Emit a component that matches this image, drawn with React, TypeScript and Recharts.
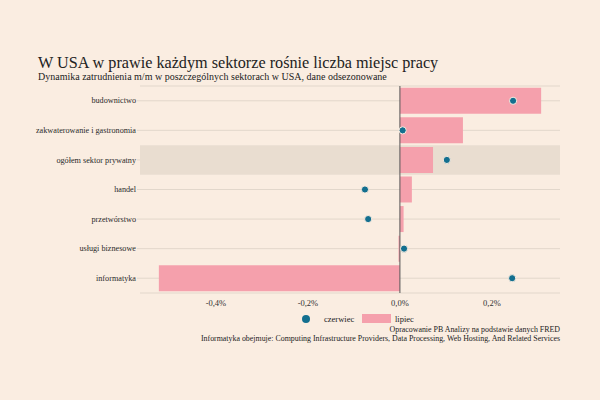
import React from "react";
import {
  ComposedChart,
  Bar,
  Line,
  XAxis,
  YAxis,
  CartesianGrid,
  ReferenceArea,
  ReferenceLine,
} from "recharts";

const categories = [
  "budownictwo",
  "zakwaterowanie i gastronomia",
  "ogółem sektor prywatny",
  "handel",
  "przetwórstwo",
  "usługi biznesowe",
  "informatyka",
];
const lipiec = [0.307, 0.137, 0.072, 0.026, 0.008, -0.003, -0.524];
const czerwiec = [0.246, 0.006, 0.102, -0.076, -0.069, 0.009, 0.244];
const xTicks = [-0.4, -0.2, 0, 0.2];

const data = categories.map((name, i) => ({
  name,
  lipiec: lipiec[i],
  czerwiec: czerwiec[i],
}));

const BG = "#faede1";
const PINK = "#f5a0ac";
const BLUE = "#136f8f";
const FONT = "'Liberation Serif', serif";

const fmt = (v: number) => v.toFixed(1).replace(".", ",") + "%";

const CatTick = (props: any) => {
  const { x, y, payload } = props;
  return (
    <text
      x={x}
      y={y}
      dy="0.33em"
      textAnchor="end"
      fontSize={8.2}
      fill="#2a2a2a"
      fontFamily={FONT}
    >
      {payload.value}
    </text>
  );
};

export default function App() {
  return (
    <div
      style={{
        position: "absolute",
        left: 0,
        top: 0,
        width: 600,
        height: 400,
        background: BG,
        fontFamily: FONT,
        color: "#222",
      }}
    >
      <div
        style={{
          position: "absolute",
          left: 38,
          top: 53,
          fontSize: 16.2,
          lineHeight: "20px",
          whiteSpace: "nowrap",
        }}
      >
        W USA w prawie każdym sektorze rośnie liczba miejsc pracy
      </div>
      <div
        style={{
          position: "absolute",
          left: 38,
          top: 71,
          fontSize: 10,
          lineHeight: "12px",
          whiteSpace: "nowrap",
        }}
      >
        Dynamika zatrudnienia m/m w poszczególnych sektorach w USA, dane odsezonowane
      </div>
      <div style={{ position: "absolute", left: 0, top: 0 }}>
        <ComposedChart
          width={600}
          height={400}
          layout="vertical"
          data={data}
          margin={{ top: 86, right: 40, bottom: 77, left: 30 }}
          barCategoryGap="6%"
        >
          <ReferenceArea
            y1="ogółem sektor prywatny"
            y2="ogółem sektor prywatny"
            fill="#e9ddd0"
            fillOpacity={1}
            stroke="none"
          />
          <CartesianGrid vertical={false} stroke="#e2d7cb" strokeWidth={1} />
          <XAxis
            type="number"
            domain={[-0.565, 0.348]}
            ticks={xTicks}
            tickFormatter={fmt}
            axisLine={false}
            tickLine={false}
            tickSize={0}
            tickMargin={7}
            height={30}
            tick={{ fontSize: 8.5, fill: "#333", fontFamily: FONT }}
            allowDataOverflow
          />
          <YAxis
            type="category"
            dataKey="name"
            width={110}
            axisLine={false}
            tickLine={{ stroke: "#e2d7cb" }}
            tickSize={3}
            tickMargin={1}
            interval={0}
            tick={<CatTick />}
          />
          <Bar dataKey="lipiec" fill={PINK} isAnimationActive={false} />
          <ReferenceLine x={0} stroke="#555" strokeWidth={1} />
          <Line
            dataKey="czerwiec"
            stroke="none"
            isAnimationActive={false}
            dot={{ r: 3.6, fill: BLUE, stroke: BG, strokeWidth: 1 }}
            activeDot={false}
          />
        </ComposedChart>
      </div>
      <div
        style={{
          position: "absolute",
          left: 302,
          top: 315,
          width: 8,
          height: 8,
          borderRadius: 4,
          background: BLUE,
        }}
      />
      <div
        style={{
          position: "absolute",
          left: 324,
          top: 313,
          fontSize: 8.5,
          lineHeight: "12px",
          whiteSpace: "nowrap",
        }}
      >
        czerwiec
      </div>
      <div
        style={{
          position: "absolute",
          left: 362,
          top: 314,
          width: 29,
          height: 9,
          background: PINK,
        }}
      />
      <div
        style={{
          position: "absolute",
          left: 395,
          top: 313,
          fontSize: 8.5,
          lineHeight: "12px",
          whiteSpace: "nowrap",
        }}
      >
        lipiec
      </div>
      <div
        style={{
          position: "absolute",
          right: 40,
          top: 325,
          fontSize: 7.9,
          lineHeight: "9px",
          textAlign: "right",
          whiteSpace: "nowrap",
        }}
      >
        Opracowanie PB Analizy na podstawie danych FRED
        <br />
        Informatyka obejmuje: Computing Infrastructure Providers, Data Processing, Web Hosting, And Related Services
      </div>
    </div>
  );
}
